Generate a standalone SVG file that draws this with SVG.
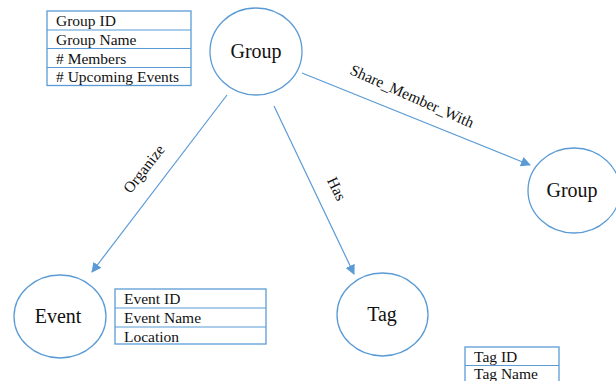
<svg xmlns="http://www.w3.org/2000/svg" width="616" height="381" viewBox="0 0 616 381">
<style>
.n{fill:#fff;stroke:#5B9BD5;stroke-width:1.3}
.c{fill:none;stroke:#5B9BD5;stroke-width:1.2}
.t{font-family:'Liberation Serif','DejaVu Serif',serif;font-size:15.5px;fill:#111}
.big{font-family:'Liberation Serif','DejaVu Serif',serif;font-size:20px;fill:#111;text-anchor:middle}
.lbl{font-family:'Liberation Serif','DejaVu Serif',serif;font-size:15.5px;fill:#111;text-anchor:middle}
.r{fill:#fff;stroke:#5B9BD5;stroke-width:1.3}
</style>
<defs>
<marker id="ah" markerWidth="10" markerHeight="10" refX="9" refY="5" orient="auto" markerUnits="userSpaceOnUse">
<path d="M0,0 L10,5 L0,10 z" fill="#5B9BD5"/>
</marker>
</defs>
<g id="connectors">
<line class="c" x1="227" y1="95" x2="92" y2="272" marker-end="url(#ah)"/>
<line class="c" x1="274" y1="106" x2="354" y2="274" marker-end="url(#ah)"/>
<line class="c" x1="302" y1="73" x2="530" y2="165" marker-end="url(#ah)"/>
<text class="lbl" transform="translate(148,172) rotate(-52)">Organize</text>
<text class="lbl" transform="translate(332,191) rotate(64)">Has</text>
<text class="lbl" transform="translate(410,101) rotate(24)">Share_Member_With</text>
</g>
<g id="group-table">
<rect class="r" x="47" y="11" width="144" height="74.5"/>
<line class="c" x1="47" y1="30" x2="191" y2="30"/>
<line class="c" x1="47" y1="48.5" x2="191" y2="48.5"/>
<line class="c" x1="47" y1="67.5" x2="191" y2="67.5"/>
<text class="t" x="56" y="26">Group ID</text>
<text class="t" x="56" y="45">Group Name</text>
<text class="t" x="56" y="64"># Members</text>
<text class="t" x="56" y="82"># Upcoming Events</text>
</g>
<g id="group-main">
<ellipse class="n" cx="256" cy="51.5" rx="46" ry="43.5"/>
<text class="big" x="256" y="58">Group</text>
</g>
<g id="group-other">
<ellipse class="n" cx="574" cy="190.5" rx="46" ry="42.5"/>
<text class="big" x="572" y="197">Group</text>
</g>
<g id="event">
<ellipse class="n" cx="60" cy="316.5" rx="46" ry="41.5"/>
<text class="big" x="58" y="323">Event</text>
</g>
<g id="event-table">
<rect class="r" x="115" y="289" width="151" height="55"/>
<line class="c" x1="115" y1="308" x2="266" y2="308"/>
<line class="c" x1="115" y1="327" x2="266" y2="327"/>
<text class="t" x="124" y="304">Event ID</text>
<text class="t" x="124" y="323">Event Name</text>
<text class="t" x="124" y="342">Location</text>
</g>
<g id="tag">
<ellipse class="n" cx="382.5" cy="314.5" rx="45.5" ry="41.5"/>
<text class="big" x="382" y="321">Tag</text>
</g>
<g id="tag-table">
<rect class="r" x="465" y="347" width="94" height="40"/>
<line class="c" x1="465" y1="365.5" x2="559" y2="365.5"/>
<text class="t" x="474" y="362">Tag ID</text>
<text class="t" x="474" y="379">Tag Name</text>
</g>
</svg>
